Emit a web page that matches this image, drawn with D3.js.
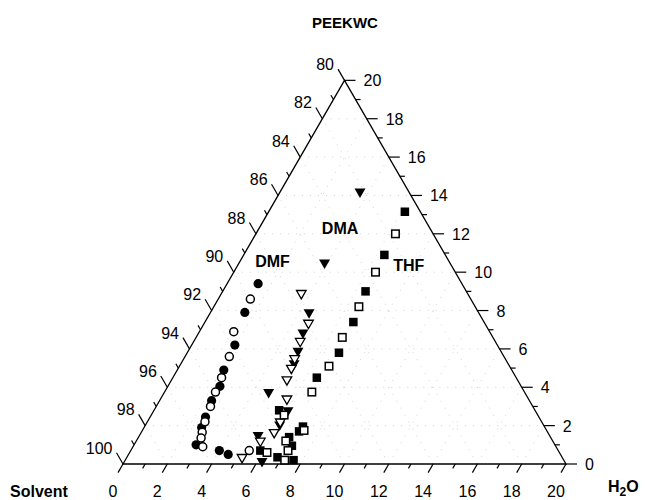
<!DOCTYPE html>
<html>
<head>
<meta charset="utf-8">
<script src="https://cdn.jsdelivr.net/npm/d3@7"></script>
<style>
  html, body { margin: 0; padding: 0; background: #fff; }
  svg { display: block; }
  text { font-family: "Liberation Sans", Arial, Helvetica, sans-serif; fill: #000; }
</style>
</head>
<body>
<svg id="chart" width="647" height="500"></svg>
<script>
// Ternary corner: H2O 0-20, PEEKWC 0-20, Solvent 80-100 (wt%)
// Each point is [H2O, PEEKWC]; Solvent = 100 - H2O - PEEKWC
const dmfFilled = [[1.4, 9.4], [1.55, 7.9], [1.95, 6.2], [2.1, 4.9], [2.35, 4.05], [2.35, 3.3],
                   [2.5, 2.45], [2.6, 1.9], [2.8, 1.0], [4.0, 0.7], [4.5, 0.5]];
const dmfOpen   = [[1.45, 8.6], [1.55, 6.9], [2.0, 5.6], [2.2, 4.5], [2.3, 3.75], [2.45, 3.0],
                   [2.6, 2.2], [2.75, 1.65], [2.85, 1.35], [3.15, 0.9], [5.35, 0.7]];
const dmaFilled = [[3.6, 14.2], [3.85, 10.5], [4.45, 7.9], [4.7, 6.85], [4.95, 5.9], [5.1, 5.25],
                   [4.7, 3.75], [6.05, 2.8], [6.05, 2.05], [5.35, 1.5], [6.2, 0.15]];
const dmaOpen   = [[3.6, 8.9], [4.7, 7.35], [4.8, 6.4], [5.0, 5.5], [5.1, 5.0], [5.2, 4.4],
                   [5.7, 3.4], [6.0, 2.2], [6.0, 1.65], [5.6, 1.2], [5.2, 0.35]];
const thfFilled = [[6.15, 13.15], [6.35, 10.9], [6.45, 9.0], [6.7, 7.4], [6.85, 5.8], [6.5, 4.5],
                   [5.65, 2.8], [7.15, 1.95], [7.1, 1.7], [6.8, 1.4], [7.15, 0.95], [5.85, 0.7],
                   [6.8, 0.35], [7.6, 0.2]];
const thfOpen   = [[6.3, 12.0], [6.4, 10.0], [6.55, 8.2], [6.6, 6.6], [6.75, 5.1], [6.65, 3.75],
                   [6.0, 2.55], [7.3, 1.75], [6.75, 1.2], [7.1, 0.7], [6.2, 0.6], [7.2, 0.2]];

// Solvent names and where each name sits, as [H2O, PEEKWC]
const seriesNames = ["DMF", "DMA", "THF"];
const nameAnchors = [[1.45, 10.6], [3.65, 12.3], [7.7, 10.4]];

// Axis titles and tick values
const topTitle = "PEEKWC";
const leftTitle = "Solvent";
const h2oTicks = d3.range(0, 21, 1);
const peekTicks = d3.range(0, 21, 1);
const solventTicks = d3.range(80, 101, 1);

const svg = d3.select("#chart");
const side = 443;
const origin = [123, 464];               // Solvent corner (100 %)
const sin60 = Math.sqrt(3) / 2;

const wScale = d3.scaleLinear().domain([0, 20]).range([0, side]);
const pScale = d3.scaleLinear().domain([0, 20]).range([0, side]);

function proj(w, p) {
  return [origin[0] + wScale(w) + pScale(p) / 2, origin[1] - pScale(p) * sin60];
}

// faint dotted grid every 2 %
const grid = svg.append("g").attr("stroke", "#d2d2d2").attr("stroke-width", 1)
  .attr("stroke-dasharray", "1,7").attr("fill", "none");
for (let v = 2; v < 20; v += 2) {
  const lines = [
    [proj(0, v), proj(20 - v, v)],      // constant PEEKWC
    [proj(v, 0), proj(v, 20 - v)],      // constant H2O
    [proj(v, 0), proj(0, v)]            // constant Solvent
  ];
  lines.forEach(l => grid.append("line")
    .attr("x1", l[0][0]).attr("y1", l[0][1]).attr("x2", l[1][0]).attr("y2", l[1][1]));
}

// triangle frame
const frame = [proj(0, 0), proj(20, 0), proj(0, 20)];
svg.append("path")
  .attr("d", d3.line()(frame) + "Z")
  .attr("fill", "none").attr("stroke", "#000").attr("stroke-width", 1.3);

const axisG = svg.append("g").attr("stroke", "#000").attr("stroke-width", 1.2);
const labelG = svg.append("g").attr("font-size", 16);

// H2O axis (bottom): ticks slant down-left
h2oTicks.forEach(w => {
  const major = w % 2 === 0;
  const b = proj(w, 0), len = major ? 10 : 5;
  axisG.append("line").attr("x1", b[0]).attr("y1", b[1])
    .attr("x2", b[0] - len * 0.5).attr("y2", b[1] + len * sin60);
  if (major) labelG.append("text").attr("x", b[0] - 10).attr("y", 497)
    .attr("text-anchor", "middle").text(w);
});

// PEEKWC axis (right): horizontal ticks
peekTicks.forEach(p => {
  const major = p % 2 === 0;
  const b = proj(20 - p, p), len = major ? 11 : 5;
  axisG.append("line").attr("x1", b[0]).attr("y1", b[1])
    .attr("x2", b[0] + len).attr("y2", b[1]);
  if (major) labelG.append("text").attr("x", b[0] + 19).attr("y", b[1] + 6)
    .attr("text-anchor", "start").text(p);
});

// Solvent axis (left): ticks slant up-left
solventTicks.forEach(s => {
  const major = s % 2 === 0;
  const b = proj(0, 100 - s), len = major ? 13 : 5;
  const e = [b[0] - len * 0.5, b[1] - len * sin60];
  axisG.append("line").attr("x1", b[0]).attr("y1", b[1]).attr("x2", e[0]).attr("y2", e[1]);
  if (major) labelG.append("text").attr("x", e[0] - 4).attr("y", e[1] + 1)
    .attr("text-anchor", "end").text(s);
});

// axis titles
svg.append("text").attr("x", 345).attr("y", 28).attr("text-anchor", "middle")
  .attr("font-size", 15).attr("font-weight", "bold").text(topTitle);
svg.append("text").attr("x", 10).attr("y", 497)
  .attr("font-size", 16).attr("font-weight", "bold").text(leftTitle);
const h2o = svg.append("text").attr("x", 608).attr("y", 492)
  .attr("font-size", 16).attr("font-weight", "bold");
h2o.append("tspan").text("H");
h2o.append("tspan").attr("dy", 4).attr("font-size", 12).text("2");
h2o.append("tspan").attr("dy", -4).text("O");

// markers
const plot = svg.append("g");
function drawCircles(data, filled) {
  plot.selectAll(null).data(data).join("circle")
    .attr("cx", d => proj(d[0], d[1])[0]).attr("cy", d => proj(d[0], d[1])[1])
    .attr("r", filled ? 4.6 : 4)
    .attr("fill", filled ? "#000" : "#fff")
    .attr("stroke", "#000").attr("stroke-width", filled ? 0 : 1.5);
}
function drawSquares(data, filled) {
  const s = filled ? 8.5 : 7.5;
  plot.selectAll(null).data(data).join("rect")
    .attr("x", d => proj(d[0], d[1])[0] - s / 2).attr("y", d => proj(d[0], d[1])[1] - s / 2)
    .attr("width", s).attr("height", s)
    .attr("fill", filled ? "#000" : "#fff")
    .attr("stroke", "#000").attr("stroke-width", filled ? 0 : 1.5);
}
function drawTriangles(data, filled) {
  const sym = d3.symbol().type(d3.symbolTriangle).size(filled ? 52 : 40);
  plot.selectAll(null).data(data).join("path")
    .attr("d", sym)
    .attr("transform", d => {
      const q = proj(d[0], d[1]);
      return `translate(${q[0]},${q[1]}) rotate(180)`;
    })
    .attr("fill", filled ? "#000" : "#fff")
    .attr("stroke", "#000").attr("stroke-width", filled ? 0 : 1.3);
}

drawCircles(dmfFilled, true);
drawCircles(dmfOpen, false);
drawTriangles(dmaFilled, true);
drawTriangles(dmaOpen, false);
drawSquares(thfFilled, true);
drawSquares(thfOpen, false);

// solvent names
seriesNames.forEach((name, i) => {
  const q = proj(nameAnchors[i][0], nameAnchors[i][1]);
  svg.append("text").attr("x", q[0]).attr("y", q[1] + 6)
    .attr("text-anchor", "middle").attr("font-size", 16).attr("font-weight", "bold")
    .text(name);
});
</script>
</body>
</html>
